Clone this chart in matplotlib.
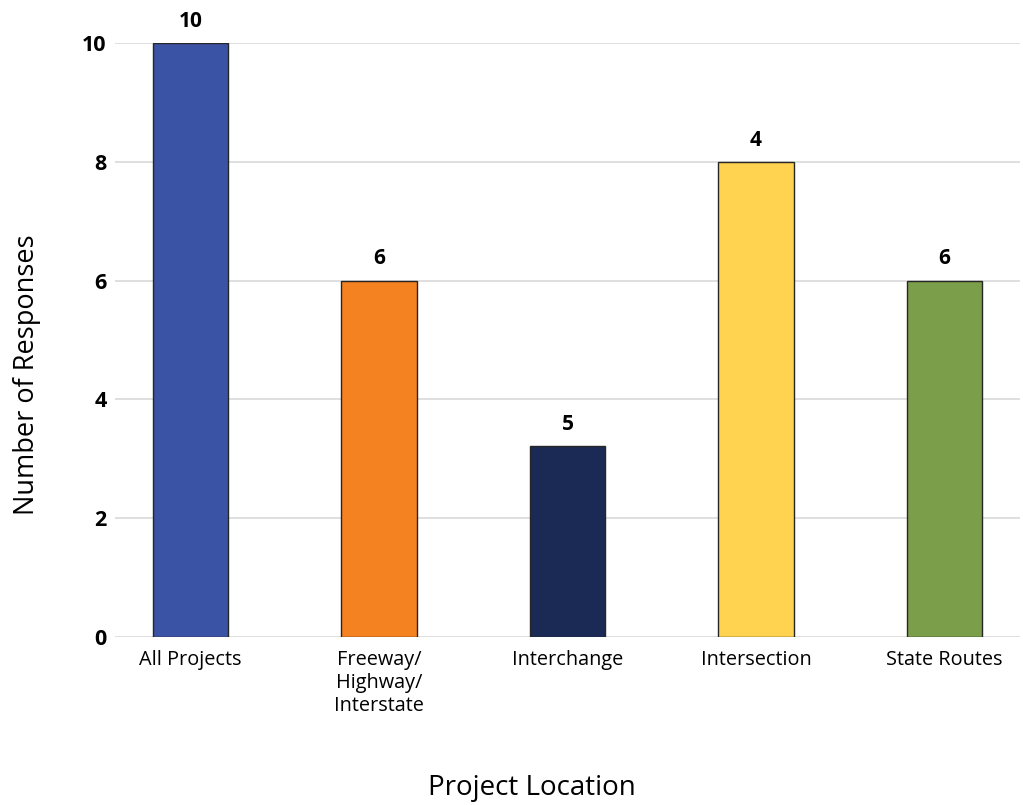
import matplotlib
matplotlib.use("Agg")
import matplotlib.pyplot as plt

categories = ["All Projects", "Freeway/\nHighway/\nInterstate", "Interchange",
              "Intersection", "State Routes"]
bar_heights = [10, 6, 3.22, 8, 6]
response_counts = [10, 6, 5, 4, 6]
bar_colors = ["#3A53A4", "#F58220", "#1B2A55", "#FFD24F", "#7A9E4A"]
y_ticks = [0, 2, 4, 6, 8, 10]

plt.rcParams["font.family"] = ["Open Sans", "DejaVu Sans"]

fig = plt.figure(figsize=(10.23, 8.05), dpi=100)
ax = fig.add_axes([115 / 1023, 168 / 805, (1020 - 115) / 1023, (637 - 43) / 805])

x = range(len(categories))
bars = ax.bar(x, bar_heights, width=0.4, color=bar_colors,
              edgecolor="#262626", linewidth=1.0, zorder=3)

for rect, count in zip(bars, response_counts):
    ax.annotate(str(count),
                xy=(rect.get_x() + rect.get_width() / 2, rect.get_height()),
                xytext=(0, 8), textcoords="offset points",
                ha="center", va="bottom", fontsize=15, fontweight="bold",
                color="black", annotation_clip=False)

ax.set_xlim(-0.4, 4.4)
ax.set_ylim(0, 10)
ax.set_yticks(y_ticks)
ax.set_yticklabels([str(t) for t in y_ticks], fontsize=15.5, fontweight="bold")
ax.set_xticks(list(x))
ax.set_xticklabels(categories, fontsize=14.3, linespacing=1.2, va="top")
ax.tick_params(axis="both", length=0)
ax.tick_params(axis="y", pad=6)
ax.tick_params(axis="x", pad=9)

ax.grid(axis="y", color="#D9D9D9", linewidth=1.2, zorder=0)
for side in ["top", "right", "left", "bottom"]:
    ax.spines[side].set_visible(False)

fig.text(27 / 1023, 1 - 375 / 805, "Number of Responses", rotation=90,
         ha="center", va="center", fontsize=19.5)
fig.text(532 / 1023, 1 - 788 / 805, "Project Location",
         ha="center", va="center", fontsize=20)

fig.savefig("out.png", dpi=100, facecolor="white")
